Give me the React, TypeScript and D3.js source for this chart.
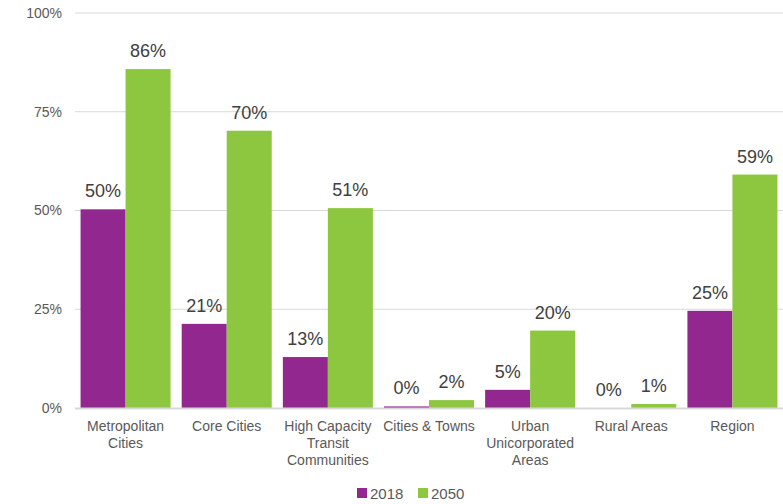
import { useEffect, useRef } from 'react';
import * as React from 'react';
import * as d3 from 'd3';

const categories = [
    'Metropolitan\nCities',
    'Core Cities',
    'High Capacity\nTransit\nCommunities',
    'Cities & Towns',
    'Urban\nUnicorporated\nAreas',
    'Rural Areas',
    'Region',
];
const series = ['2018', '2050'];
const values2018 = [50.3, 21.3, 12.9, 0.4, 4.6, 0, 24.6];
const values2050 = [85.8, 70.2, 50.6, 2.0, 19.6, 1.0, 59.1];
const yTicks = [0, 25, 50, 75, 100];
const colors = ['#92278f', '#8dc63f'];

const App: React.FC = () => {
    const ref = useRef<SVGSVGElement>(null);

    useEffect(() => {
        const width = 783, height = 504;
        const margin = { top: 13, right: 0, bottom: 96, left: 75 };
        const svg = d3.select(ref.current)
            .attr('width', width)
            .attr('height', height);
        svg.selectAll('*').remove();

        const font = '"Liberation Sans", Arial, sans-serif';
        const textColor = '#595959';

        const x = d3.scaleBand()
            .domain(categories)
            .range([margin.left, width - margin.right])
            .paddingInner(0.11)
            .paddingOuter(0.055);
        const xs = d3.scaleBand()
            .domain(series)
            .range([0, x.bandwidth()]);
        const y = d3.scaleLinear()
            .domain([0, 100])
            .range([height - margin.bottom, margin.top]);

        // grid + y labels
        const g = svg.append('g');
        g.selectAll('line.grid')
            .data(yTicks.filter(t => t > 0))
            .enter()
            .append('line')
            .attr('x1', margin.left)
            .attr('x2', width)
            .attr('y1', d => y(d))
            .attr('y2', d => y(d))
            .attr('stroke', '#d9d9d9')
            .attr('stroke-width', 1);

        g.selectAll('text.ytick')
            .data(yTicks)
            .enter()
            .append('text')
            .attr('x', 62)
            .attr('y', d => y(d))
            .attr('dy', '0.35em')
            .attr('text-anchor', 'end')
            .attr('font-family', font)
            .attr('font-size', '14px')
            .attr('fill', textColor)
            .text(d => `${d}%`);

        // bars
        const data = [values2018, values2050];
        data.forEach((vals, si) => {
            svg.append('g')
                .selectAll('rect')
                .data(vals)
                .enter()
                .append('rect')
                .attr('x', (_d, i) => x(categories[i])! + xs(series[si])!)
                .attr('y', d => y(d))
                .attr('width', xs.bandwidth())
                .attr('height', d => y(0) - y(d))
                .attr('fill', colors[si]);

            svg.append('g')
                .selectAll('text')
                .data(vals)
                .enter()
                .append('text')
                .attr('x', (_d, i) => x(categories[i])! + xs(series[si])! + xs.bandwidth() / 2)
                .attr('y', d => y(d) - 12)
                .attr('text-anchor', 'middle')
                .attr('font-family', font)
                .attr('font-size', '18px')
                .attr('fill', '#404040')
                .text(d => `${Math.round(d)}%`);
        });

        // baseline
        svg.append('line')
            .attr('x1', margin.left)
            .attr('x2', width)
            .attr('y1', y(0) + 0.5)
            .attr('y2', y(0) + 0.5)
            .attr('stroke', '#d9d9d9')
            .attr('stroke-width', 2);

        // category labels
        const cat = svg.append('g')
            .selectAll('text')
            .data(categories)
            .enter()
            .append('text')
            .attr('x', d => x(d)! + x.bandwidth() / 2)
            .attr('y', y(0) + 23)
            .attr('text-anchor', 'middle')
            .attr('font-family', font)
            .attr('font-size', '14px')
            .attr('fill', textColor);
        cat.each(function (d) {
            const t = d3.select(this);
            d.split('\n').forEach((line, i) => {
                t.append('tspan')
                    .attr('x', x(d)! + x.bandwidth() / 2)
                    .attr('dy', i === 0 ? 0 : 17)
                    .text(line);
            });
        });

        // legend
        const legendX = [357, 418];
        const legend = svg.append('g')
            .selectAll('g')
            .data(series)
            .enter()
            .append('g')
            .attr('transform', (_d, i) => `translate(${legendX[i]},488)`);
        legend.append('rect')
            .attr('width', 10)
            .attr('height', 10)
            .attr('fill', (_d, i) => colors[i]);
        legend.append('text')
            .attr('x', 13)
            .attr('y', 11)
            .attr('font-family', font)
            .attr('font-size', '15px')
            .attr('fill', textColor)
            .text(d => d);
    }, []);

    return <svg ref={ref} style={{ position: 'absolute', left: 0, top: 0 }} />;
};

export default App;
